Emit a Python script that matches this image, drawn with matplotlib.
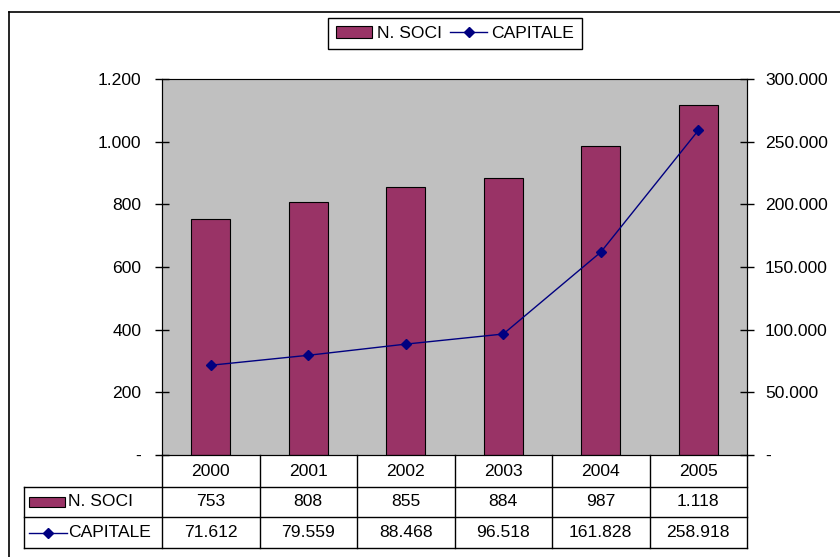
import matplotlib.pyplot as plt
import matplotlib.transforms as mtransforms
from matplotlib.lines import Line2D
from matplotlib.patches import Patch, Rectangle

plt.rcParams["font.family"] = ["Liberation Sans", "DejaVu Sans"]

years = ["2000", "2001", "2002", "2003", "2004", "2005"]
soci = [753, 808, 855, 884, 987, 1118]
capitale = [71612, 79559, 88468, 96518, 161828, 258918]
soci_labels = ["753", "808", "855", "884", "987", "1.118"]
capitale_labels = ["71.612", "79.559", "88.468", "96.518", "161.828", "258.918"]
left_ticks = [0, 200, 400, 600, 800, 1000, 1200]
left_ticklabels = ["-", "200", "400", "600", "800", "1.000", "1.200"]
right_ticks = [0, 50000, 100000, 150000, 200000, 250000, 300000]
right_ticklabels = ["-", "50.000", "100.000", "150.000", "200.000", "250.000", "300.000"]

BAR = "#993366"
LINE = "#000080"
FS = 12.6

W, H = 840, 557
fig = plt.figure(figsize=(W / 100, H / 100), dpi=100)

# outer chart border (only left and top visible in the crop)
fig.add_artist(Line2D([9 / W, 9 / W], [0, 1 - 12 / H], color="black", lw=1.2, transform=fig.transFigure))
fig.add_artist(Line2D([9 / W, 1], [1 - 12 / H, 1 - 12 / H], color="black", lw=1.2, transform=fig.transFigure))

ax = fig.add_axes([162 / W, 1 - 455 / H, 585 / W, 376 / H])
ax.set_facecolor("#C0C0C0")
x = list(range(len(years)))
ax.bar(x, soci, width=0.4, color=BAR, edgecolor="black", linewidth=0.8, zorder=2)
ax.set_xlim(-0.5, len(years) - 0.5)
ax.set_ylim(0, 1200)
ax.set_yticks(left_ticks)
ax.set_yticklabels(left_ticklabels, fontsize=FS)
ax.set_xticks([])
ax.tick_params(axis="y", direction="inout", length=10, width=1, pad=10)
for s in ["left", "right", "bottom"]:
    ax.spines[s].set_color("black")
ax.spines["top"].set_color("#808080")

ax2 = ax.twinx()
ax2.plot(x, capitale, color=LINE, lw=1, marker="D", markersize=5, zorder=3)
ax2.set_ylim(0, 300000)
ax2.set_yticks(right_ticks)
ax2.set_yticklabels(right_ticklabels, fontsize=FS)
ax2.tick_params(axis="y", direction="inout", length=10, width=1, pad=8)
ax2.spines["right"].set_color("black")

# data table below the plot
tr = mtransforms.blended_transform_factory(ax.transData, ax.transAxes)
row_h = [32 / 376, 30 / 376, 31 / 376]
y0 = 0
y1 = -row_h[0]
y2 = y1 - row_h[1]
y3 = y2 - row_h[2]
lab_left = (24 - 162) / 585
kw = dict(color="black", lw=1, clip_on=False)
for b in range(len(years) + 1):
    ax.add_line(Line2D([b - 0.5, b - 0.5], [y0, y3], transform=tr, **kw))
ax.add_line(Line2D([lab_left, lab_left], [y1, y3], transform=ax.transAxes, **kw))
for yy in [y1, y2, y3]:
    ax.add_line(Line2D([lab_left, 1], [yy, yy], transform=ax.transAxes, **kw))

for i, yr in enumerate(years):
    ax.text(i, (y0 + y1) / 2, yr, transform=tr, ha="center", va="center", fontsize=FS)
    ax.text(i, (y1 + y2) / 2, soci_labels[i], transform=tr, ha="center", va="center", fontsize=FS)
    ax.text(i, (y2 + y3) / 2, capitale_labels[i], transform=tr, ha="center", va="center", fontsize=FS)

# row label keys
px = lambda v: (v - 162) / 585
ym = (y1 + y2) / 2
ax.add_patch(Rectangle((px(29), ym - 5 / 376), 36 / 585, 10 / 376, transform=ax.transAxes,
                       facecolor=BAR, edgecolor="black", lw=0.8, clip_on=False))
ax.text(px(68), ym, "N. SOCI", transform=ax.transAxes, ha="left", va="center", fontsize=FS)
ym = (y2 + y3) / 2
ax.add_line(Line2D([px(29), px(67)], [ym, ym], transform=ax.transAxes, color=LINE, lw=1, clip_on=False))
ax.add_line(Line2D([px(48)], [ym], transform=ax.transAxes, color=LINE, marker="D", markersize=5,
                   linestyle="none", clip_on=False))
ax.text(px(68), ym, "CAPITALE", transform=ax.transAxes, ha="left", va="center", fontsize=FS)

handles = [
    Patch(facecolor=BAR, edgecolor="black", lw=0.8),
    Line2D([], [], color=LINE, lw=1, marker="D", markersize=5),
]
leg = fig.legend(handles, ["N. SOCI", "CAPITALE"], loc="upper center", bbox_to_anchor=(455 / W, 1 - 18 / H),
                 ncol=2, fontsize=FS, frameon=True, fancybox=False, framealpha=1, edgecolor="black",
                 borderpad=0.45, handlelength=2.1, handletextpad=0.25, columnspacing=0.5, borderaxespad=0)
leg.get_frame().set_linewidth(1)

fig.savefig("out.png", dpi=100)
